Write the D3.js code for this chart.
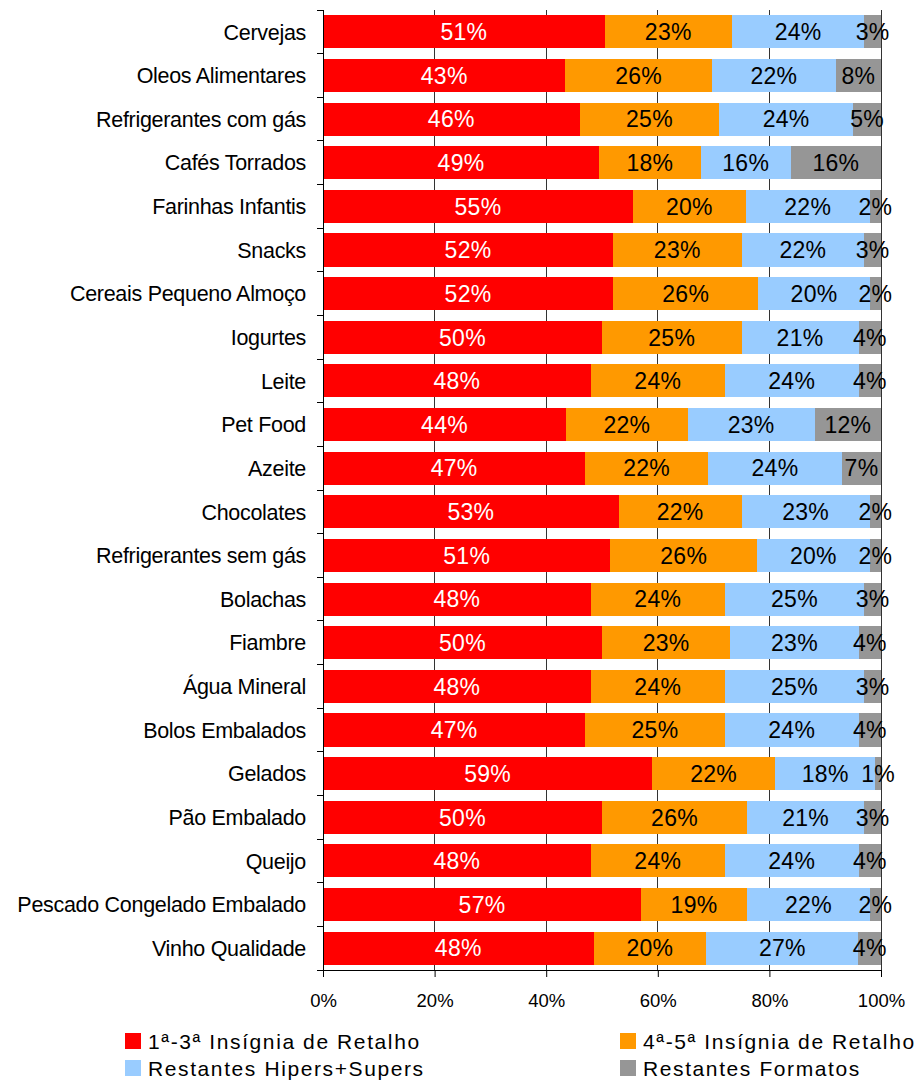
<!DOCTYPE html>
<html><head><meta charset="utf-8">
<script src="https://cdn.jsdelivr.net/npm/d3@7"></script>
<style>
body{margin:0;background:#fff;}
svg{display:block;font-family:"Liberation Sans",Arial,sans-serif;}
</style></head><body>
<svg id="c" width="915" height="1081"></svg>
<script>
const categories = ["Cervejas","Oleos Alimentares","Refrigerantes com gás","Cafés Torrados","Farinhas Infantis","Snacks","Cereais Pequeno Almoço","Iogurtes","Leite","Pet Food","Azeite","Chocolates","Refrigerantes sem gás","Bolachas","Fiambre","Água Mineral","Bolos Embalados","Gelados","Pão Embalado","Queijo","Pescado Congelado Embalado","Vinho Qualidade"];
const seriesNames = ["1ª-3ª Insígnia de Retalho","4ª-5ª Insígnia de Retalho","Restantes Hipers+Supers","Restantes Formatos"];
const insignia13 = [51,43,46,49,55,52,52,50,48,44,47,53,51,48,50,48,47,59,50,48,57,48];
const insignia45 = [23,26,25,18,20,23,26,25,24,22,22,22,26,24,23,24,25,22,26,24,19,20];
const hipersSupers = [24,22,24,16,22,22,20,21,24,23,24,23,20,25,23,25,24,18,21,24,22,27];
const formatos = [3,8,5,16,2,3,2,4,4,12,7,2,2,3,4,3,4,1,3,4,2,4];
const colors = ["#FF0000","#FF9900","#99CCFF","#969696"];
const tickValues = [0,0.2,0.4,0.6,0.8,1];

const seriesArrays = [insignia13, insignia45, hipersSupers, formatos];
const keys = ["s0","s1","s2","s3"];
const rows = categories.map((c,i)=>{const r={cat:c}; keys.forEach((k,j)=>r[k]=seriesArrays[j][i]); return r;});
const stacked = d3.stack().keys(keys).offset(d3.stackOffsetExpand)(rows);

const svg = d3.select("#c");
const L=323, R=881, T=10, B=970;
const x = d3.scaleLinear().domain([0,1]).range([L,R]);
const y = d3.scaleBand().domain(categories).range([T,B]).paddingInner(0.24).paddingOuter(0.12);

// gridlines
svg.append("g").selectAll("line").data(tickValues.slice(1)).join("line")
  .attr("x1",d=>x(d)).attr("x2",d=>x(d)).attr("y1",T).attr("y2",B)
  .attr("stroke","#333").attr("stroke-width",1).attr("shape-rendering","crispEdges");

// bars
const g = svg.append("g");
stacked.forEach((s,si)=>{
  g.append("g").attr("fill",colors[si]).selectAll("rect").data(s).join("rect")
    .attr("x",d=>x(d[0])).attr("width",d=>x(d[1])-x(d[0]))
    .attr("y",d=>y(d.data.cat)).attr("height",y.bandwidth())
    .attr("shape-rendering","crispEdges");
});
// labels
stacked.forEach((s,si)=>{
  g.append("g").selectAll("text").data(s).join("text")
    .attr("x",d=>(x(d[0])+x(d[1]))/2)
    .attr("y",d=>y(d.data.cat)+y.bandwidth()/2)
    .attr("dy","0.36em").attr("text-anchor","middle")
    .attr("font-size","23px").attr("letter-spacing","0.3px")
    .attr("fill",si===0?"#fff":"#000")
    .text(d=>d.data[keys[si]]+"%");
});

// y axis
const yAxis = svg.append("g").attr("transform",`translate(${L},0)`);
yAxis.append("line").attr("x1",0).attr("x2",0).attr("y1",T).attr("y2",B).attr("stroke","#000").attr("shape-rendering","crispEdges");
const bounds = d3.range(categories.length+1).map(i=>T+i*y.step());
yAxis.selectAll("line.t").data(bounds).join("line").attr("class","t")
  .attr("x1",-6).attr("x2",0).attr("y1",d=>d).attr("y2",d=>d).attr("stroke","#000").attr("shape-rendering","crispEdges");
yAxis.selectAll("text").data(categories).join("text")
  .attr("x",-17).attr("y",d=>y(d)+y.bandwidth()/2).attr("dy","0.36em")
  .attr("text-anchor","end").attr("font-size","21.5px").attr("letter-spacing","-0.3px").attr("fill","#000")
  .text(d=>d);

// x axis
const xAxis = svg.append("g").attr("transform",`translate(0,${B})`)
  .call(d3.axisBottom(x).tickValues(tickValues).tickFormat(d3.format(".0%")).tickSize(7).tickSizeOuter(0));
xAxis.select(".domain").attr("d",`M${L-6},0.5H${R}`).attr("stroke","#000");
xAxis.selectAll(".tick line").attr("stroke","#000");
xAxis.selectAll(".tick text").attr("font-size","18.5px").attr("font-family","'Liberation Sans',Arial,sans-serif").attr("fill","#000").attr("dy","0").attr("y",37);

// legend
const legendPos = [[125,1033],[620,1033],[125,1060],[620,1060]];
const lg = svg.append("g");
seriesNames.forEach((n,i)=>{
  const [lx,ly]=legendPos[i];
  lg.append("rect").attr("x",lx).attr("y",ly).attr("width",16).attr("height",16).attr("fill",colors[i]);
  lg.append("text").attr("x",lx+23).attr("y",ly+8).attr("dy","0.36em")
    .attr("font-size","21px").attr("letter-spacing","1.6px").attr("fill","#000").text(n);
});
</script>
</body></html>
